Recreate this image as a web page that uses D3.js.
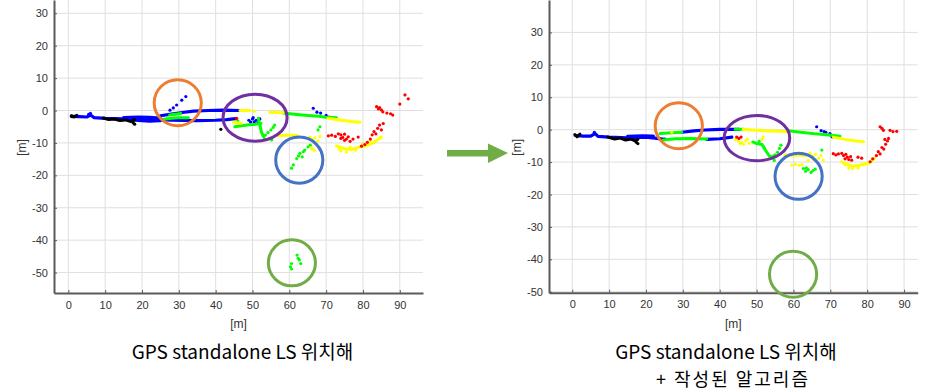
<!DOCTYPE html>
<html><head><meta charset="utf-8">
<script src="https://cdn.jsdelivr.net/npm/d3@7/dist/d3.min.js"></script>
<style>
html,body{margin:0;padding:0;background:#fff;}
svg{display:block;}
text{font-family:"Liberation Sans",Arial,sans-serif;}
.cap{font-family:"Noto Sans CJK KR","Noto Sans",sans-serif;}
</style></head>
<body>
<script>
// ---------- shared ticks ----------
const xTicks = [0,10,20,30,40,50,60,70,80,90];
const yTicks = [-50,-40,-30,-20,-10,0,10,20,30];
const captionA = ["GPS standalone LS 위치해"];
const captionB = ["GPS standalone LS 위치해", "+ 작성된 알고리즘"];
const axisLabel = "[m]";

// ---------- panel A: GPS standalone LS ----------
const A_blackTracks = [
  [[0.8,-1.6],[1.5,-2.0],[2.3,-1.5]],
  [[9.5,-2.3],[11,-2.8],[12.5,-2.6],[14,-3.1],[15.5,-2.9],[17,-3.4],[18,-2.8]]
];
const A_blackDots = [[18,-4.2],[17.6,-3.8],[41.4,-5.8],[1,-1.9]];
const A_blueTracks = [
  [[0.8,-1.8],[3,-1.9],[5,-2.0],[6,-1.4],[7,-2.2],[10,-2.4],[15,-2.6],[20,-2.5],[24,-2.8],[28,-3.0],[35,-3.1],[40,-3.0],[43,-2.8],[45.5,-2.5]],
  [[15,-2.2],[19,-2.0],[22,-2.1],[25,-2.3]],
  [[18,-3.0],[22,-3.3],[25,-3.1]],
  [[25,-1.6],[28,-1.1],[31,-0.6],[34,-0.2],[38,0],[42,0.1],[46.5,0]]
];
const A_blueDots = [[27.6,0.1],[28.5,0.8],[29.4,1.7],[30.8,3.2],[31.9,4.3],[6,-0.9],[5.5,-1.2],
  [49,-3],[50,-2.6],[50.5,-3.5],[51,-3.0],[51.5,-3.8],[52,-2.6],[49.5,-3.6],[50.2,-2.2],
  [66.5,0.7],[67.5,-0.5],[68.5,-0.8],[70,-1.5],[70.8,-2.0],[71.5,-2.3]];
const A_greenTracks = [
  [[25.5,-2.8],[28,-2.4],[30,-2.2],[32.6,-2.2]],
  [[27.5,-1.4],[30.5,-0.9]],
  [[45.2,-5.0],[47,-4.7],[49,-4.4],[51,-4.2],[52.3,-4.0]],
  [[51.6,-2.4],[52,-4.5],[52.4,-6.5],[53,-8.1]],
  [[58.3,-0.8],[62,-1.2],[65,-1.5],[68,-1.8],[70,-2.1],[72.8,-2.2]]
];
const A_greenDots = [[53.5,-7.6],[54.2,-6.8],[55,-6.0],[55.6,-5.2],[56,-4.5],[55.2,-9.1],[53.3,-8.8],[46,-3.2],
  [60.6,-17.8],[61.1,-16.8],[62,-14.8],[62.9,-13.2],[63.8,-12.7],[64.2,-12.2],[65.1,-11.2],[65.7,-10.7],[62.5,-14],[63.5,-14.3],
  [68.3,-5.0],[67.8,-6.0],
  [62.1,-44.6],[62.4,-45.6],[62.7,-46.1],[63.1,-47.2],[60.6,-47.2],[60.3,-48.2],[60.6,-48.9]];
const A_yellowTracks = [
  [[46.6,0],[49.3,0]],
  [[54.7,-0.5],[58.3,-0.7]],
  [[70.5,-2.4],[74,-3.0],[77,-3.4],[79.2,-3.6]],
  [[44.8,-3.6],[47,-4.0]],
  [[56.5,-7.7],[62,-7.6]],
  [[72.8,-10.9],[75,-11.8],[77,-12],[79,-11.3],[81,-10.8],[83,-9.8],[85,-8.2]]
];
const A_yellowDots = [[50.5,-0.2],[65.6,-8.2],[66.3,-9],[67,-8.4],[67.8,-9.4],[68.3,-8],[65.9,-11.5],[66.8,-12.3],[66.2,-11.9],
  [74,-12.5],[75.5,-12.8],[73.5,-11.8],[76.5,-11.3],[78,-12.2],[80,-10.3],[82,-9.2]];
const A_redDots = [[45.7,-2.4],[70.6,-7.8],[71.5,-7.6],[72.5,-8.0],[73.3,-7.2],[74,-7.5],[74.5,-8.3],[75,-7.3],[75.5,-8.8],[76,-8.1],
  [76.5,-9.5],[77.3,-8.8],[78.7,-8.2],[75,-9.2],[74,-8.6],[79.6,-11],[80.5,-10.5],[81.2,-9.8],[82,-8.8],[82.5,-7.5],[83,-6.5],
  [83.5,-7.2],[84,-5.5],[84.5,-4.5],[85,-6],[85.5,-4],[83.7,1.2],[84.2,0.5],[84.5,0.9],[85,0.2],[85.4,-0.4],[86.5,-0.8],
  [87.5,-1],[88.1,-1.4],[90,2],[91.4,4.8],[92.3,3.6]];
const A_marks = [ // annotation ellipses: centre x, centre y, half-width, half-height (data units)
  {c:"#ED7D31", x:29.7, y:2.4, rx:6.4, ry:7.1},
  {c:"#7030A0", x:50.7, y:-2.2, rx:8.7, ry:7.25},
  {c:"#4472C4", x:62.7, y:-15.3, rx:6.4, ry:7.1},
  {c:"#70AD47", x:60.7, y:-47, rx:6.4, ry:7.1}
];

// ---------- panel B: + algorithm ----------
const B_blackTracks = [
  [[0.7,-1.5],[1.3,-2.2],[2.1,-1.4]],
  [[9.7,-2.3],[11.5,-2.9],[13,-2.6],[14.5,-3.2],[16,-2.9],[17.2,-3.5],[17.8,-3.0]]
];
const B_blackDots = [[17.8,-4.3],[17.4,-3.9]];
const B_blueTracks = [
  [[0.8,-1.8],[3,-2.0],[5,-2.0],[6.2,-1.2],[7,-2.1],[10,-2.3],[15,-2.5],[20,-2.3],[22.4,-2.6],[25,-3.0]],
  [[15,-2.1],[19,-1.9],[22,-2.0]],
  [[36.5,-3.0],[40,-2.8],[43.3,-2.3]],
  [[29.7,-0.8],[33,-0.4],[36,-0.1],[40,0.1],[45.3,0.1]]
];
const B_blueDots = [[6,-0.8],[25.2,-2.9],[66.3,0.9],[67.5,-0.3],[68.3,-0.6],[68.8,-0.8],[69.9,-1.2],[70.3,-1.8],[70.5,-2.2]];
const B_greenTracks = [
  [[23.8,-1.2],[26,-1.0],[29.7,-0.8]],
  [[24.7,-3.2],[28,-2.8],[32,-2.7],[36.5,-2.9]],
  [[44.2,0.1],[46.4,0.1]],
  [[58.2,-0.3],[62,-0.8],[66,-1.3],[69,-1.6],[72.6,-2.0]],
  [[49,-3.8],[50,-4.3],[51.5,-4.6],[52.5,-6.5],[53.5,-8.2],[54.2,-8.4],[55,-7.8]]
];
const B_greenDots = [[55.7,-7],[56.2,-5.8],[56.6,-4.8],[54.8,-9.5],[50.7,-3.6],[52,-5.5],
  [62.7,-12],[63.3,-12.8],[64,-12.3],[64.8,-13.2],[65.3,-12.6],[65.9,-12.2],[67.7,-6.3],[63.5,-11.8]];
const B_yellowTracks = [
  [[46.4,0.1],[52,-0.3],[58.2,-0.6]],
  [[70.8,-2.3],[74,-3],[77,-3.5],[79,-3.7]],
  [[57.7,-7.9],[60,-7.9],[63.6,-7.9]],
  [[73.5,-10.2],[76,-11.3],[78,-11.0],[80.5,-10.3],[82,-8.8]]
];
const B_yellowDots = [[27,-0.8],[44.2,-3.0],[45,-3.5],[46,-4.0],[47,-3.5],[48,-4.2],[45.5,-4.3],[47.5,-3.0],[46.5,-4.5],[51.8,-2.2],[51.5,-3],
  [64.5,-7.3],[65.2,-8.2],[66,-7.6],[66.8,-8.8],[67.5,-8],[68.1,-9.4],[65.5,-9.2],[59.5,-10.9],[60.5,-10.7],[61.5,-11],[62.3,-10.8],[64,-9.5],
  [74,-10.8],[75,-11.8],[76,-12],[73.1,-9.9],[77.5,-11.8],[79,-10.8],[81,-9.8]];
const B_redDots = [[44.6,-2.3],[45.2,-2.7],[45.8,-2.3],[70.8,-7.4],[71.5,-7.8],[72.2,-7.5],[73.1,-7.3],[73.6,-8.0],[74.2,-7.6],[74.6,-8.5],
  [75,-9.2],[75.5,-8.3],[75.8,-9.4],[74,-9.0],[77.5,-8.5],[78.5,-8.8],[80.8,-9.9],[81.5,-9],[82.5,-8],[83,-6.8],[83.5,-7.5],
  [84,-5.5],[84.5,-6],[85,-4.5],[85.5,-3.5],[85.8,-2.7],[83.5,0.9],[84,0.4],[84.4,-0.2],[86.2,-0.2],[87,-0.6],[88,-0.5],[84.8,-3]];
const B_marks = [
  {c:"#ED7D31", x:28.9, y:1.2, rx:6.4, ry:7.1},
  {c:"#7030A0", x:50.1, y:-2.6, rx:8.9, ry:7.0},
  {c:"#4472C4", x:61.4, y:-14.4, rx:6.4, ry:7.1},
  {c:"#70AD47", x:59.9, y:-44.6, rx:6.4, ry:7.1}
];

const COLORS = {black:"#000000", blue:"#0000FF", green:"#00FF00", yellow:"#FFFF00", red:"#FF0000"};

const svg = d3.select("body").append("svg").attr("width",931).attr("height",391);
svg.append("rect").attr("width",931).attr("height",391).attr("fill","#fff");

function panel(cfg){
  const x = d3.scaleLinear().domain(cfg.xDom).range(cfg.xRange);
  const y = d3.scaleLinear().domain(cfg.yDom).range(cfg.yRange);
  const g = svg.append("g");
  const [x0,x1] = cfg.xRange, [yb,yt] = cfg.yRange;
  // grid
  g.append("g").selectAll("line").data(xTicks).join("line")
    .attr("x1",d=>x(d)).attr("x2",d=>x(d)).attr("y1",yb).attr("y2",yt)
    .attr("stroke","#dfdfdf").attr("stroke-width",1);
  g.append("g").selectAll("line").data(yTicks).join("line")
    .attr("y1",d=>y(d)).attr("y2",d=>y(d)).attr("x1",x0).attr("x2",x1)
    .attr("stroke","#dfdfdf").attr("stroke-width",1);
  // axes
  const ax = g.append("g").attr("transform",`translate(0,${yb})`)
    .call(d3.axisBottom(x).tickValues(xTicks).tickSizeInner(-3).tickSizeOuter(0).tickPadding(8).tickFormat(d=>String(d)));
  const ay = g.append("g").attr("transform",`translate(${x0},0)`)
    .call(d3.axisLeft(y).tickValues(yTicks).tickSizeInner(-3).tickSizeOuter(0).tickPadding(6).tickFormat(d=>String(d)));
  [ax,ay].forEach(a=>{
    a.select(".domain").attr("stroke","#5a5a5a").attr("stroke-width",2);
    a.selectAll(".tick line").attr("stroke","#5a5a5a");
    a.selectAll("text").attr("fill","#333").style("font-size","11px").style("font-family","'Liberation Sans',Arial,sans-serif");
  });
  g.append("text").attr("x",(x0+x1)/2).attr("y",yb+35).attr("text-anchor","middle")
    .attr("fill","#333").style("font-size","12px").text(axisLabel);
  g.append("text").attr("transform",`translate(${cfg.yLabelX},${(yb+yt)/2+1}) rotate(-90)`).attr("text-anchor","middle")
    .attr("fill","#333").style("font-size","12px").text(axisLabel);

  const line = d3.line().x(d=>x(d[0])).y(d=>y(d[1])).curve(d3.curveLinear);
  const data = g.append("g");
  const drawTracks=(arr,col,w)=>data.append("g").selectAll("path").data(arr).join("path")
    .attr("d",line).attr("fill","none").attr("stroke",col).attr("stroke-width",w)
    .attr("stroke-linecap","round").attr("stroke-linejoin","round");
  const drawDots=(arr,col)=>data.append("g").selectAll("circle").data(arr).join("circle")
    .attr("cx",d=>x(d[0])).attr("cy",d=>y(d[1])).attr("r",1.6).attr("fill",col);
  drawTracks(cfg.blueTracks,COLORS.blue,3.2); drawDots(cfg.blueDots,COLORS.blue);
  drawTracks(cfg.blackTracks,COLORS.black,3); drawDots(cfg.blackDots,COLORS.black);
  drawTracks(cfg.greenTracks,COLORS.green,3); drawDots(cfg.greenDots,COLORS.green);
  drawTracks(cfg.yellowTracks,COLORS.yellow,3); drawDots(cfg.yellowDots,COLORS.yellow);
  drawDots(cfg.redDots,COLORS.red);
  // annotation ellipses
  g.append("g").selectAll("ellipse").data(cfg.marks).join("ellipse")
    .attr("cx",d=>x(d.x)).attr("cy",d=>y(d.y))
    .attr("rx",d=>Math.abs(x(d.x+d.rx)-x(d.x))).attr("ry",d=>Math.abs(y(d.y+d.ry)-y(d.y)))
    .attr("fill","none").attr("stroke",d=>d.c).attr("stroke-width",3);
  // caption (one text element, one tspan per line)
  const cap = svg.append("text").attr("class","cap").attr("y",359)
    .attr("text-anchor","middle").attr("fill","#000");
  cfg.caption.forEach((t,i)=>{
    cap.append("tspan").attr("x",cfg.capX[i]).attr("dy",i===0?0:26.5)
      .style("font-size", i===0?"19px":"18px")
      .style("letter-spacing", i===0?"0px":"2px").text(t);
  });
}

panel({xDom:[-3.9,96.3], xRange:[54,423], yDom:[-56.3,34.1], yRange:[293,0], yLabelX:26,
  blackTracks:A_blackTracks, blackDots:A_blackDots, blueTracks:A_blueTracks, blueDots:A_blueDots,
  greenTracks:A_greenTracks, greenDots:A_greenDots, yellowTracks:A_yellowTracks, yellowDots:A_yellowDots,
  redDots:A_redDots, marks:A_marks, caption:captionA, capX:[242.5]});
panel({xDom:[-6.3,93.7], xRange:[549,917.7], yDom:[-50.3,40], yRange:[292.7,0], yLabelX:521,
  blackTracks:B_blackTracks, blackDots:B_blackDots, blueTracks:B_blueTracks, blueDots:B_blueDots,
  greenTracks:B_greenTracks, greenDots:B_greenDots, yellowTracks:B_yellowTracks, yellowDots:B_yellowDots,
  redDots:B_redDots, marks:B_marks, caption:captionB, capX:[726,733]});

// arrow between panels
const arrow = [[447,150],[488,150],[488,143.5],[508,153],[488,163],[488,156.5],[447,156.5]];
svg.append("path").attr("d",d3.line()(arrow)+"Z").attr("fill","#70AD47");
</script>
</body></html>
